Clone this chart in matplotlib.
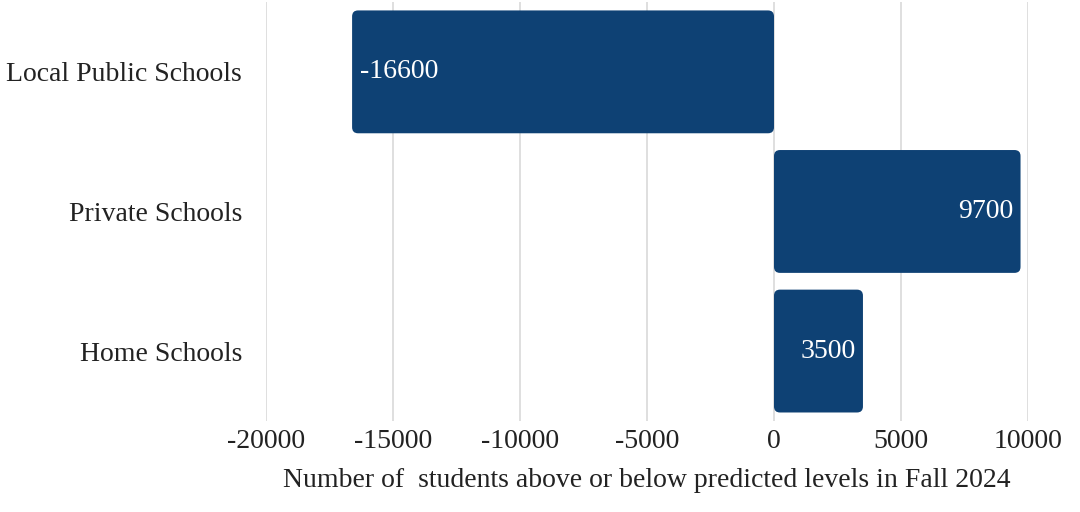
import matplotlib.pyplot as plt
from matplotlib.patches import FancyBboxPatch

# data
categories = ['Local Public Schools', 'Private Schools', 'Home Schools']
values = [-16600, 9700, 3500]
xticks = [-20000, -15000, -10000, -5000, 0, 5000, 10000]

bar_color = '#0e4174'
text_color = '#222222'
fs = 20

plt.rcParams['font.family'] = ['Liberation Serif', 'DejaVu Serif']

fig = plt.figure(figsize=(10.8, 5.12), dpi=100)
ax = fig.add_axes([0.246, 0.178, 0.706, 0.818])

bars = ax.barh(range(len(categories)), values, height=0.88, color=bar_color)

# swap plain bars for rounded ones
x_per_px = 30000 / (0.706 * 1080)
y_per_px = 3.0 / (0.818 * 512)
r_px = 6
for b in bars:
    x, y = b.get_x(), b.get_y()
    w, h = b.get_width(), b.get_height()
    if w < 0:
        x, w = x + w, -w
    b.set_visible(False)
    p = FancyBboxPatch((x, y), w, h,
                       boxstyle='round,pad=0,rounding_size=%f' % (r_px * x_per_px),
                       mutation_aspect=y_per_px / x_per_px,
                       fc=bar_color, ec='none', zorder=3)
    ax.add_patch(p)

# value labels inside bars
for i, v in enumerate(values):
    if v < 0:
        ax.annotate(str(v), (v, i), xytext=(6, 0), textcoords='offset points',
                    ha='left', va='center', color='white', fontsize=fs, zorder=4)
    else:
        ax.annotate(str(v), (v, i), xytext=(-5, 0), textcoords='offset points',
                    ha='right', va='center', color='white', fontsize=fs, zorder=4)

ax.set_xlim(-20000, 10000)
ax.set_ylim(2.5, -0.5)
ax.set_xticks(xticks)
ax.set_xticklabels([str(t) for t in xticks])
ax.set_yticks(range(len(categories)))
ax.set_yticklabels(categories)

ax.xaxis.grid(True, color='#d9d9d9', linewidth=1.2, zorder=0)
ax.set_axisbelow(True)
for s in ax.spines.values():
    s.set_visible(False)
ax.tick_params(axis='both', length=0, labelsize=fs, colors=text_color)
ax.tick_params(axis='y', pad=17)
ax.tick_params(axis='x', pad=6)
ax.set_xlabel('Number of  students above or below predicted levels in Fall 2024',
              fontsize=fs, color=text_color, labelpad=10)

fig.savefig('out.png', dpi=100)
